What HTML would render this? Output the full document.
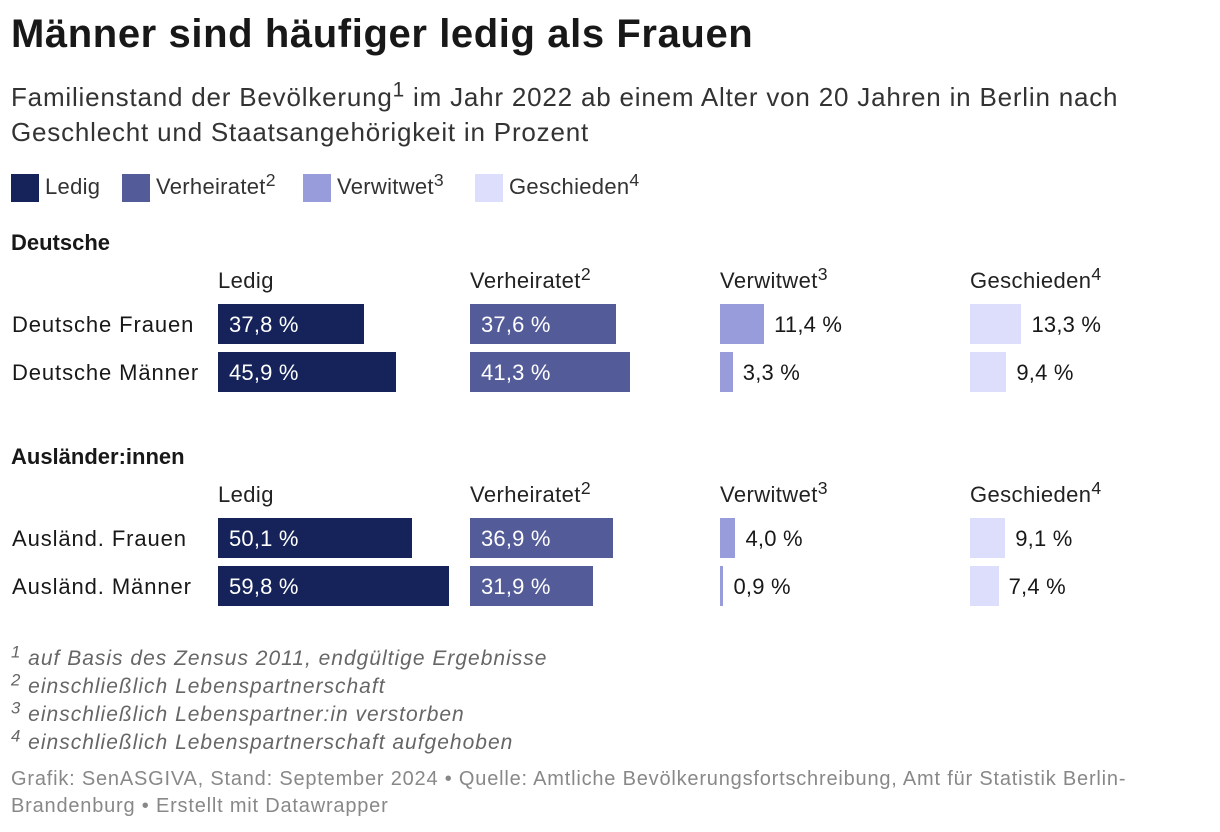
<!DOCTYPE html>
<html><head><meta charset="utf-8"><style>
body{margin:0;background:#fff;font-family:"Liberation Sans",sans-serif;color:#181818;width:1220px;height:832px;overflow:hidden;position:relative}
.a{position:absolute;white-space:nowrap}
h1{position:absolute;left:11px;top:12px;margin:0;font-size:40px;font-weight:bold;letter-spacing:0.6px}
.sub{left:11px;top:80px;font-size:26px;line-height:35px;color:#333;letter-spacing:0.8px}
sup{font-size:0.8em;vertical-align:0.45em;line-height:0}
.leg{top:174px;font-size:22px;color:#333;letter-spacing:0.3px}
.sw{position:absolute;width:28px;height:28px;top:174px}
.grp{font-size:22px;font-weight:bold}
.col{font-size:22px;color:#222;letter-spacing:0.4px}
.row{font-size:22px;letter-spacing:0.9px}
.val{font-size:22px;letter-spacing:0.2px}
.fn{left:11px;font-size:21px;font-style:italic;color:#666;letter-spacing:1px}
.src{left:11px;font-size:20px;color:#888;line-height:27px;letter-spacing:0.8px}
</style></head><body>
<h1>Männer sind häufiger ledig als Frauen</h1>
<div class="a sub">Familienstand der Bevölkerung<sup>1</sup> im Jahr 2022 ab einem Alter von 20 Jahren in Berlin nach<br>Geschlecht und Staatsangehörigkeit in Prozent</div>
<div id="legend"></div>
<div id="chart"></div>
<div class="a fn" style="top:647px"><sup>1</sup> auf Basis des Zensus 2011, endgültige Ergebnisse</div>
<div class="a fn" style="top:675px"><sup>2</sup> einschließlich Lebenspartnerschaft</div>
<div class="a fn" style="top:703px"><sup>3</sup> einschließlich Lebenspartner:in verstorben</div>
<div class="a fn" style="top:731px"><sup>4</sup> einschließlich Lebenspartnerschaft aufgehoben</div>
<div class="a src" style="top:766px">Grafik: SenASGIVA, Stand: September 2024 • Quelle: Amtliche Bevölkerungsfortschreibung, Amt für Statistik Berlin-<br>Brandenburg • Erstellt mit Datawrapper</div>
<script>
const categories=["Ledig","Verheiratet","Verwitwet","Geschieden"];
const catSup=["","2","3","4"];
const colors=["#15235a","#545b99","#989cdb","#dcdefc"];
const groups=["Deutsche","Ausländer:innen"];
const rowLabels=[["Deutsche Frauen","Deutsche Männer"],["Ausländ. Frauen","Ausländ. Männer"]];
const ledig=[[37.8,45.9],[50.1,59.8]];
const verheiratet=[[37.6,41.3],[36.9,31.9]];
const verwitwet=[[11.4,3.3],[4.0,0.9]];
const geschieden=[[13.3,9.4],[9.1,7.4]];
const series=[ledig,verheiratet,verwitwet,geschieden];

const colX=[218,470,720,970];
const scale=3.87;
const xw=v=>v*scale;
const fmt=v=>v.toFixed(1).replace('.',',')+' %';

const leg=document.getElementById('legend');
const legX=[11,122,303,475];
categories.forEach((c,i)=>{
  const s=document.createElement('div');s.className='sw';s.style.left=legX[i]+'px';s.style.background=colors[i];
  
  
  leg.appendChild(s);
  const t=document.createElement('div');t.className='a leg';t.style.left=(legX[i]+34)+'px';
  t.innerHTML=c+(catSup[i]?'<sup>'+catSup[i]+'</sup>':'');
  
  
  leg.appendChild(t);
});

const ch=document.getElementById('chart');
const gTop=[230,444];
groups.forEach((g,gi)=>{
  const y0=gTop[gi];
  const h=document.createElement('div');h.className='a grp';h.style.left='11px';h.style.top=y0+'px';h.textContent=g;
  
  
  ch.appendChild(h);
  categories.forEach((c,ci)=>{
    const t=document.createElement('div');t.className='a col';t.style.left=colX[ci]+'px';t.style.top=(y0+38)+'px';
    t.innerHTML=c+(catSup[ci]?'<sup>'+catSup[ci]+'</sup>':'');
    
    
    ch.appendChild(t);
  });
  rowLabels[gi].forEach((r,ri)=>{
    const by=y0+74+ri*48;
    const l=document.createElement('div');l.className='a row';l.style.left='12px';l.style.top=(by+8)+'px';l.textContent=r;
    
    
    ch.appendChild(l);
    series.forEach((s,ci)=>{
      const v=s[gi][ri];
      const b=document.createElement('div');b.className='a';
      b.style.cssText=`left:${colX[ci]}px;top:${by}px;width:${xw(v)}px;height:40px;background:${colors[ci]}`;
      
      
      ch.appendChild(b);
      const t=document.createElement('div');t.className='a val';
      const inside=xw(v)>80;
      t.style.top=(by+8)+'px';
      t.style.left=(inside?colX[ci]+11:colX[ci]+xw(v)+10)+'px';
      t.style.color=inside?'#fff':'#181818';
      t.textContent=fmt(v);
      
      
      ch.appendChild(t);
    });
  });
});
</script>
</body></html>
